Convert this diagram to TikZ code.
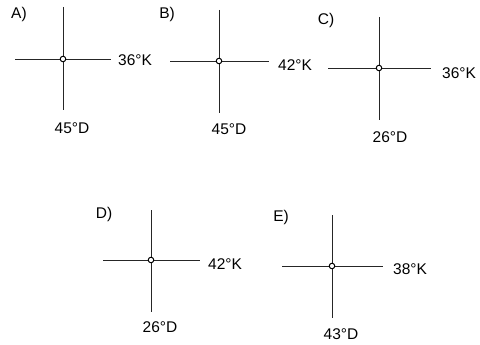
\documentclass[tikz,border=0pt]{standalone}
\usepackage{fontspec}
\setmainfont{Liberation Sans}
\begin{document}
\begin{tikzpicture}[x=1pt,y=-1pt,
  axis/.style={draw=black!85,line width=0.9pt},
  pivot/.style={circle,draw=black,line width=1pt,fill=white,inner sep=0pt,minimum size=5.5pt},
  lbl/.style={inner sep=0pt,font=\fontsize{15.5}{17}\selectfont},
  tag/.style={inner sep=0pt,font=\fontsize{15.5}{17}\selectfont}]
\useasboundingbox (0,0) rectangle (480,345);
% A
\coordinate (aT) at (63,7); \coordinate (aB) at (63,110);
\coordinate (aL) at (15,59); \coordinate (aR) at (111,59);
\draw[axis] (aT) -- (aB); \draw[axis] (aL) -- (aR);
\node[pivot] (aP) at (63,59) {};
\node[tag] (aN) at (19,14) {A)};
\node[lbl,anchor=west] (aK) at (118,60) {36°K};
\node[lbl] (aD) at (72,128) {45°D};
% B
\coordinate (bT) at (219,10); \coordinate (bB) at (219,113);
\coordinate (bL) at (170,61); \coordinate (bR) at (269,61);
\draw[axis] (bT) -- (bB); \draw[axis] (bL) -- (bR);
\node[pivot] (bP) at (219,61) {};
\node[tag] (bN) at (167,14) {B)};
\node[lbl,anchor=west] (bK) at (278,65) {42°K};
\node[lbl] (bD) at (229,129) {45°D};
% C
\coordinate (cT) at (379,17); \coordinate (cB) at (379,120);
\coordinate (cL) at (328,68); \coordinate (cR) at (431,68);
\draw[axis] (cT) -- (cB); \draw[axis] (cL) -- (cR);
\node[pivot] (cP) at (379,68) {};
\node[tag] (cN) at (326,20) {C)};
\node[lbl,anchor=west] (cK) at (442,73) {36°K};
\node[lbl] (cD) at (390,137) {26°D};
% D
\coordinate (dT) at (151,210); \coordinate (dB) at (151,312);
\coordinate (dL) at (103,260); \coordinate (dR) at (200,260);
\draw[axis] (dT) -- (dB); \draw[axis] (dL) -- (dR);
\node[pivot] (dP) at (151,260) {};
\node[tag] (dN) at (104,214) {D)};
\node[lbl,anchor=west] (dK) at (208,264) {42°K};
\node[lbl] (dD) at (160,327) {26°D};
% E
\coordinate (eT) at (332,215); \coordinate (eB) at (332,318);
\coordinate (eL) at (282,266); \coordinate (eR) at (383,266);
\draw[axis] (eT) -- (eB); \draw[axis] (eL) -- (eR);
\node[pivot] (eP) at (332,266) {};
\node[tag] (eN) at (281,217) {E)};
\node[lbl,anchor=west] (eK) at (393,269) {38°K};
\node[lbl] (eD) at (341,334) {43°D};
\end{tikzpicture}
\end{document}
